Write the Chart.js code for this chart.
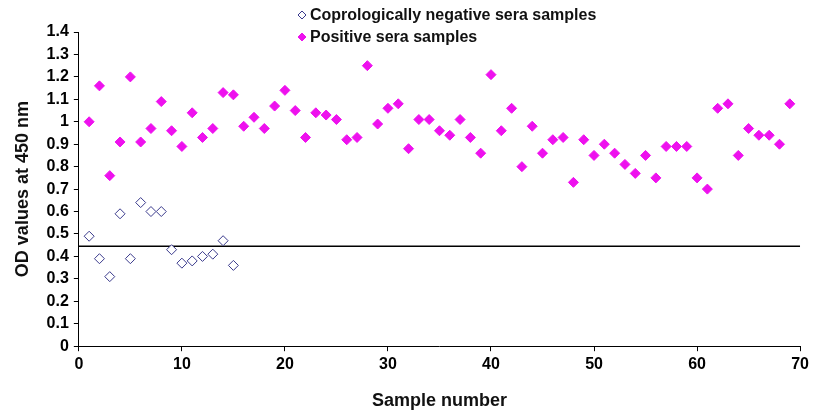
<!DOCTYPE html>
<html>
<head>
<meta charset="utf-8">
<script src="https://cdn.jsdelivr.net/npm/chart.js@4"></script>
<style>
  html, body { margin: 0; padding: 0; background: #fff; }
  #wrap { width: 813px; height: 414px; }
</style>
</head>
<body>
<div id="wrap"><canvas id="odChart" width="813" height="414"></canvas></div>
<script>
// sample numbers and OD readings
const negSamples = [1, 2, 3, 4, 5, 6, 7, 8, 9, 10, 11, 12, 13, 14, 15];
const negOD = [0.49, 0.39, 0.31, 0.59, 0.39, 0.64, 0.60, 0.60, 0.43, 0.37, 0.38, 0.40, 0.41, 0.47, 0.36];

const posSamples = Array.from({ length: 69 }, (_, i) => i + 1);
const posOD = [
    1.00, 1.16, 0.76, 0.91, 1.20, 0.91, 0.97, 1.09, 0.96, 0.89,
    1.04, 0.93, 0.97, 1.13, 1.12, 0.98, 1.02, 0.97, 1.07, 1.14,
    1.05, 0.93, 1.04, 1.03, 1.01, 0.92, 0.93, 1.25, 0.99, 1.06,
    1.08, 0.88, 1.01, 1.01, 0.96, 0.94, 1.01, 0.93, 0.86, 1.21,
    0.96, 1.06, 0.80, 0.98, 0.86, 0.92, 0.93, 0.73, 0.92, 0.85,
    0.90, 0.86, 0.81, 0.77, 0.85, 0.75, 0.89, 0.89, 0.89, 0.75,
    0.70, 1.06, 1.08, 0.85, 0.97, 0.94, 0.94, 0.90, 1.08
];

const cutoff = 0.445;
const cutoffX = [0, 70];

const legendLabels = ['Coprologically negative sera samples', 'Positive sera samples'];

const FONT = '"Liberation Sans", Arial, sans-serif';
const NEG_COLOR = '#3a3a8c';
const POS_COLOR = '#ee11ee';

const toPoints = (xs, ys) => xs.map((x, i) => ({ x, y: ys[i] }));

// legend drawn inside the top of the figure, like the original
const topLegend = {
    id: 'topLegend',
    afterDraw(chart) {
        const c = chart.ctx;
        c.save();
        c.font = 'bold 16px ' + FONT;
        c.textBaseline = 'middle';
        const rows = [
            { y: 15, fill: '#fff', stroke: NEG_COLOR },
            { y: 37, fill: POS_COLOR, stroke: POS_COLOR }
        ];
        rows.forEach((r, i) => {
            const mx = 302, s = 4;
            c.beginPath();
            c.moveTo(mx, r.y - s);
            c.lineTo(mx + s, r.y);
            c.lineTo(mx, r.y + s);
            c.lineTo(mx - s, r.y);
            c.closePath();
            c.fillStyle = r.fill;
            c.fill();
            c.strokeStyle = r.stroke;
            c.lineWidth = 1;
            c.stroke();
            c.fillStyle = '#111';
            c.fillText(legendLabels[i], 310, r.y + 1);
        });
        c.restore();
    }
};

const tickFont = { family: FONT, size: 16, weight: 'bold' };
const titleFont = { family: FONT, size: 18, weight: 'bold' };

new Chart(document.getElementById('odChart'), {
    type: 'scatter',
    data: {
        datasets: [
            {
                label: legendLabels[0],
                data: toPoints(negSamples, negOD),
                pointStyle: 'rectRot',
                pointRadius: 5,
                pointBackgroundColor: '#fff',
                pointBorderColor: NEG_COLOR,
                pointBorderWidth: 1
            },
            {
                label: legendLabels[1],
                data: toPoints(posSamples, posOD),
                pointStyle: 'rectRot',
                pointRadius: 5,
                pointBackgroundColor: POS_COLOR,
                pointBorderColor: POS_COLOR,
                pointBorderWidth: 1
            },
            {
                type: 'line',
                label: 'cut-off',
                data: toPoints(cutoffX, [cutoff, cutoff]),
                borderColor: '#000',
                borderWidth: 1.5,
                pointRadius: 0
            }
        ]
    },
    options: {
        responsive: false,
        animation: false,
        layout: { padding: { top: 32, right: 12, left: 12, bottom: 2 } },
        plugins: {
            legend: { display: false },
            tooltip: { enabled: false }
        },
        scales: {
            x: {
                type: 'linear',
                min: 0,
                max: 70,
                ticks: { stepSize: 10, autoSkip: false, color: '#000', font: tickFont, padding: 4 },
                grid: { drawOnChartArea: false, drawTicks: true, tickLength: 5, color: '#000' },
                border: { color: '#000', width: 1 },
                title: { display: true, text: 'Sample number', color: '#111', font: titleFont, padding: { top: 12, bottom: 0 } }
            },
            y: {
                min: 0,
                max: 1.4,
                ticks: {
                    stepSize: 0.1,
                    autoSkip: false,
                    color: '#000',
                    font: tickFont,
                    padding: 5,
                    callback: v => String(Math.round(v * 10) / 10)
                },
                grid: { drawOnChartArea: false, drawTicks: true, tickLength: 5, color: '#000' },
                border: { color: '#000', width: 1 },
                title: { display: true, text: 'OD values at 450 nm', color: '#111', font: titleFont, padding: { top: 0, bottom: 8 } }
            }
        }
    },
    plugins: [topLegend]
});
</script>
</body>
</html>
